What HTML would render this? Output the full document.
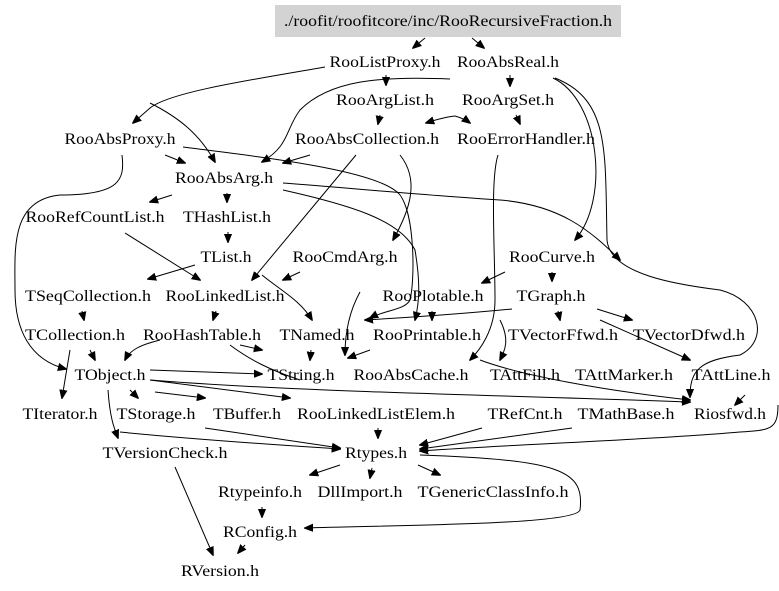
<!DOCTYPE html>
<html><head><meta charset="utf-8"><style>
html,body{margin:0;padding:0;background:#fff}
svg{display:block}
text{font-family:"Liberation Serif",serif;font-size:16px;fill:#000}
path{fill:none;stroke:#000;stroke-width:1}
</style></head><body>
<svg width="779" height="591" viewBox="0 0 779 591" xmlns="http://www.w3.org/2000/svg">
<defs><marker id="a" viewBox="0 0 10 10" refX="9" refY="5" markerWidth="9" markerHeight="9" orient="auto" markerUnits="userSpaceOnUse"><path d="M0,1 L10,5 L0,9 z" style="fill:#000;stroke:#000"/></marker></defs>
<rect x="275" y="5" width="346" height="32" fill="#d3d3d3"/>
<g marker-end="url(#a)">
<path d="M425,38 L413,48"/>
<path d="M472,38 L484,48"/>
<path d="M325,67 C250,80 170,92 150,108 L133,123"/>
<path d="M386,75 L386,85"/>
<path d="M510,75 L510,86"/>
<path d="M380,115 L378,124"/>
<path d="M516,115 L520,124"/>
<path d="M455,116 C445,117 435,120 426,123"/>
<path d="M455,116 C462,118 466,120 470,123"/>
<path d="M165,155 L185,163"/>
<path d="M150,103 C180,118 200,135 215,162"/>
<path d="M310,155 L283,163"/>
<path d="M553,78 C600,100 610,200 575,240"/>
<path d="M450,79 C380,76 330,80 300,110 C285,130 290,145 262,162"/>
<path d="M122,155 C125,180 120,195 60,195 C10,200 15,250 15,290 C15,330 30,360 66,369"/>
<path d="M172,195 L150,202"/>
<path d="M227,193 L227,202"/>
<path d="M228,232 L228,242"/>
<path d="M125,233 L200,280"/>
<path d="M195,265 L148,279"/>
<path d="M300,272 L283,280"/>
<path d="M356,155 L252,280"/>
<path d="M400,155 C420,180 410,210 393,240"/>
<path d="M82,311 L84,320"/>
<path d="M216,311 L213,320"/>
<path d="M90,350 L95,360"/>
<path d="M70,350 L62,398"/>
<path d="M130,390 L138,398"/>
<path d="M155,392 L205,398"/>
<path d="M150,380 L290,398"/>
<path d="M108,390 C110,420 115,430 118,438"/>
<path d="M120,432 C200,440 280,445 340,449"/>
<path d="M205,428 L340,448"/>
<path d="M378,428 L378,438"/>
<path d="M482,428 L420,445"/>
<path d="M572,428 L420,449"/>
<path d="M778,405 C778,430 770,430 740,432 C650,440 500,445 420,451"/>
<path d="M340,465 L310,475"/>
<path d="M372,468 L370,478"/>
<path d="M418,465 L440,475"/>
<path d="M420,455 C560,460 585,470 580,510 C575,525 400,525 305,528"/>
<path d="M175,467 L213,555"/>
<path d="M262,507 L262,517"/>
<path d="M245,545 L238,553"/>
<path d="M552,272 L552,281"/>
<path d="M505,272 L482,283"/>
<path d="M558,311 L560,320"/>
<path d="M597,309 L632,320"/>
<path d="M512,309 C450,315 400,318 365,320"/>
<path d="M432,311 L432,320"/>
<path d="M311,350 L310,360"/>
<path d="M240,345 L262,350"/>
<path d="M150,370 L262,374"/>
<path d="M370,350 L348,358"/>
<path d="M262,275 C280,290 300,300 312,320"/>
<path d="M160,340 C140,345 130,350 125,360"/>
<path d="M150,380 C300,392 500,395 690,402"/>
<path d="M480,360 C520,375 600,390 690,400"/>
<path d="M500,320 C510,340 505,350 500,360"/>
<path d="M600,320 L690,360"/>
<path d="M555,78 C610,100 605,150 607,240 C610,275 680,285 720,290 C760,300 770,340 740,355 C700,360 690,370 690,397"/>
<path d="M283,183 C350,188 420,195 500,200 C560,205 590,230 620,260"/>
<path d="M283,190 C350,205 400,220 415,250 C420,280 420,300 415,320"/>
<path d="M183,147 C260,157 380,170 400,195 C415,215 415,280 410,300 C405,310 385,310 370,318"/>
<path d="M498,155 C490,180 495,250 495,300 C495,330 480,350 470,360"/>
<path d="M360,292 C350,310 345,330 345,355"/>
<path d="M745,395 L735,405"/>
</g>
<path d="M230,345 C250,360 270,370 300,380" />
<g text-anchor="middle">
<text x="448" y="26" textLength="328" lengthAdjust="spacingAndGlyphs">./roofit/roofitcore/inc/RooRecursiveFraction.h</text>
<text x="385" y="67" textLength="111" lengthAdjust="spacingAndGlyphs">RooListProxy.h</text>
<text x="508" y="67" textLength="102" lengthAdjust="spacingAndGlyphs">RooAbsReal.h</text>
<text x="385" y="105" textLength="98" lengthAdjust="spacingAndGlyphs">RooArgList.h</text>
<text x="508" y="105" textLength="92" lengthAdjust="spacingAndGlyphs">RooArgSet.h</text>
<text x="120" y="144" textLength="111" lengthAdjust="spacingAndGlyphs">RooAbsProxy.h</text>
<text x="367" y="144" textLength="144" lengthAdjust="spacingAndGlyphs">RooAbsCollection.h</text>
<text x="526" y="144" textLength="138" lengthAdjust="spacingAndGlyphs">RooErrorHandler.h</text>
<text x="224" y="183" textLength="98" lengthAdjust="spacingAndGlyphs">RooAbsArg.h</text>
<text x="95" y="222" textLength="139" lengthAdjust="spacingAndGlyphs">RooRefCountList.h</text>
<text x="227" y="222" textLength="88" lengthAdjust="spacingAndGlyphs">THashList.h</text>
<text x="226" y="262" textLength="51" lengthAdjust="spacingAndGlyphs">TList.h</text>
<text x="345" y="262" textLength="105" lengthAdjust="spacingAndGlyphs">RooCmdArg.h</text>
<text x="552" y="262" textLength="86" lengthAdjust="spacingAndGlyphs">RooCurve.h</text>
<text x="88" y="301" textLength="126" lengthAdjust="spacingAndGlyphs">TSeqCollection.h</text>
<text x="225" y="301" textLength="119" lengthAdjust="spacingAndGlyphs">RooLinkedList.h</text>
<text x="433" y="301" textLength="101" lengthAdjust="spacingAndGlyphs">RooPlotable.h</text>
<text x="551" y="301" textLength="69" lengthAdjust="spacingAndGlyphs">TGraph.h</text>
<text x="75" y="340" textLength="100" lengthAdjust="spacingAndGlyphs">TCollection.h</text>
<text x="202" y="340" textLength="118" lengthAdjust="spacingAndGlyphs">RooHashTable.h</text>
<text x="317" y="340" textLength="75" lengthAdjust="spacingAndGlyphs">TNamed.h</text>
<text x="427" y="340" textLength="108" lengthAdjust="spacingAndGlyphs">RooPrintable.h</text>
<text x="563" y="340" textLength="110" lengthAdjust="spacingAndGlyphs">TVectorFfwd.h</text>
<text x="689" y="340" textLength="112" lengthAdjust="spacingAndGlyphs">TVectorDfwd.h</text>
<text x="110" y="380" textLength="71" lengthAdjust="spacingAndGlyphs">TObject.h</text>
<text x="301" y="380" textLength="67" lengthAdjust="spacingAndGlyphs">TString.h</text>
<text x="411" y="380" textLength="115" lengthAdjust="spacingAndGlyphs">RooAbsCache.h</text>
<text x="525" y="380" textLength="70" lengthAdjust="spacingAndGlyphs">TAttFill.h</text>
<text x="624" y="380" textLength="98" lengthAdjust="spacingAndGlyphs">TAttMarker.h</text>
<text x="731" y="380" textLength="79" lengthAdjust="spacingAndGlyphs">TAttLine.h</text>
<text x="60" y="419" textLength="75" lengthAdjust="spacingAndGlyphs">TIterator.h</text>
<text x="156" y="419" textLength="79" lengthAdjust="spacingAndGlyphs">TStorage.h</text>
<text x="247" y="419" textLength="68" lengthAdjust="spacingAndGlyphs">TBuffer.h</text>
<text x="376" y="419" textLength="158" lengthAdjust="spacingAndGlyphs">RooLinkedListElem.h</text>
<text x="525" y="419" textLength="75" lengthAdjust="spacingAndGlyphs">TRefCnt.h</text>
<text x="626" y="419" textLength="97" lengthAdjust="spacingAndGlyphs">TMathBase.h</text>
<text x="730" y="419" textLength="72" lengthAdjust="spacingAndGlyphs">Riosfwd.h</text>
<text x="165" y="458" textLength="125" lengthAdjust="spacingAndGlyphs">TVersionCheck.h</text>
<text x="376" y="458" textLength="62" lengthAdjust="spacingAndGlyphs">Rtypes.h</text>
<text x="260" y="497" textLength="84" lengthAdjust="spacingAndGlyphs">Rtypeinfo.h</text>
<text x="360" y="497" textLength="85" lengthAdjust="spacingAndGlyphs">DllImport.h</text>
<text x="493" y="497" textLength="151" lengthAdjust="spacingAndGlyphs">TGenericClassInfo.h</text>
<text x="260" y="537" textLength="74" lengthAdjust="spacingAndGlyphs">RConfig.h</text>
<text x="220" y="576" textLength="78" lengthAdjust="spacingAndGlyphs">RVersion.h</text>
</g>
</svg>
</body></html>
